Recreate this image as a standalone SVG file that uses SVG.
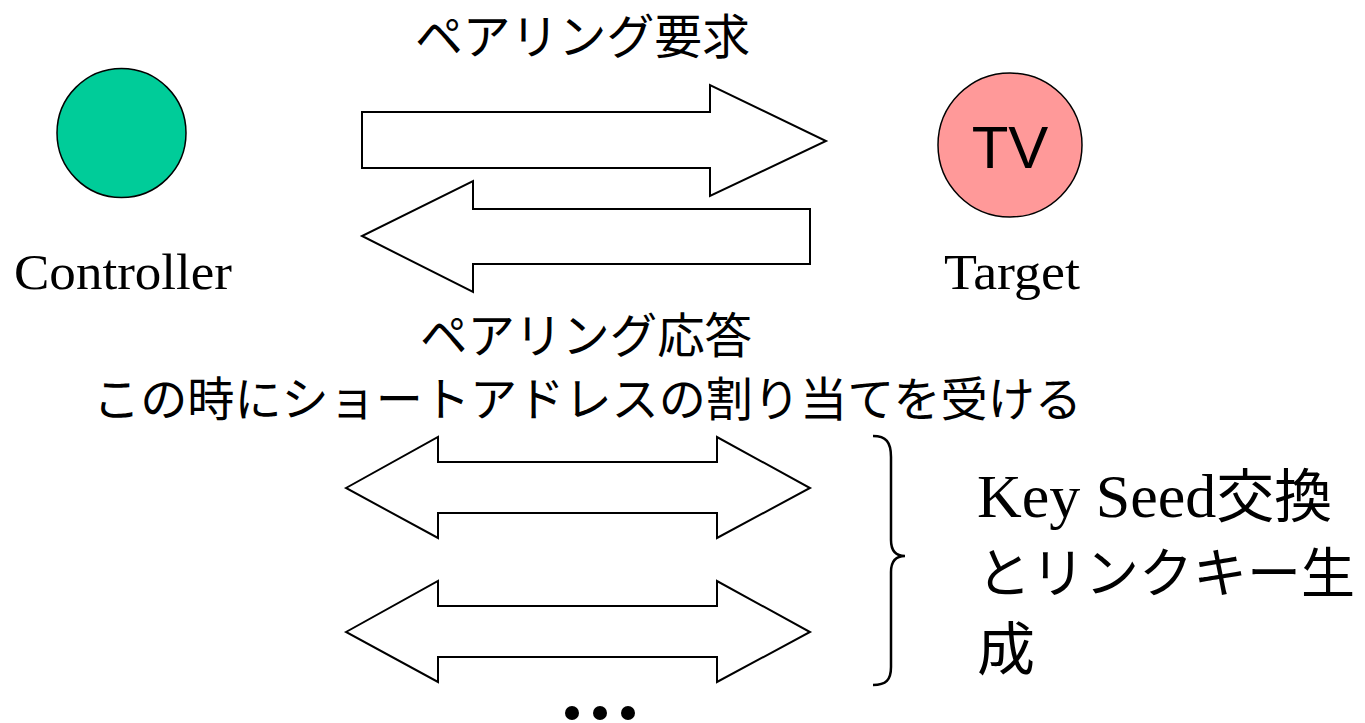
<svg xmlns="http://www.w3.org/2000/svg" width="1365" height="723" viewBox="0 0 1365 723">
<style>
.arr{fill:#fff;stroke:#000;stroke-width:2;stroke-linejoin:miter}
.jp{font-family:"Noto Sans CJK JP","Liberation Sans",sans-serif;fill:#000}
.ser{font-family:"Liberation Serif","Noto Sans CJK JP",serif;fill:#000}
.brace{fill:none;stroke:#000;stroke-width:2.5}
</style>
<rect width="1365" height="723" fill="#fff"/>
<g id="controller">
<circle cx="121.5" cy="133" r="64.5" fill="#00CC99" stroke="#000" stroke-width="1.5"/>
<text class="ser" x="14" y="289" font-size="50" textLength="218" lengthAdjust="spacingAndGlyphs">Controller</text>
</g>
<g id="target">
<circle cx="1010" cy="145" r="72" fill="#FF9999" stroke="#000" stroke-width="1.5"/>
<text x="1010" y="168" font-family="Liberation Sans, sans-serif" font-size="60" text-anchor="middle">TV</text>
<text class="ser" x="944" y="289" font-size="51" textLength="136" lengthAdjust="spacingAndGlyphs">Target</text>
</g>
<g id="connectors">
<polygon class="arr" points="362,112 710,112 710,85 826,141 710,196 710,168 362,168"/>
<polygon class="arr" points="810,209 473,209 473,181 362,236 473,292 473,264 810,264"/>
<polygon class="arr" points="346,488 438,437 438,462 717,462 717,437 810,488 717,538 717,513 438,513 438,538"/>
<polygon class="arr" points="346,632 438,581 438,606 717,606 717,581 810,632 717,682 717,657 438,657 438,682"/>
</g>
<g id="labels">
<text class="jp" x="415" y="54" font-size="48" textLength="335" lengthAdjust="spacingAndGlyphs">ペアリング要求</text>
<text class="jp" x="420" y="353" font-size="48" textLength="332" lengthAdjust="spacingAndGlyphs">ペアリング応答</text>
<text class="jp" x="93" y="416" font-size="47" textLength="989" lengthAdjust="spacingAndGlyphs">この時にショートアドレスの割り当てを受ける</text>
</g>
<g id="brace">
<path class="brace" d="M873,436 C886,436 891,442 891,457 L891,540 C891,551 896,556 905,556 C896,556 891,561 891,572 L891,667 C891,680 886,685 873,685"/>
</g>
<g id="keyseed">
<text class="ser" x="977" y="517" font-size="62"><tspan>Key Seed</tspan><tspan class="jp" font-size="58">交換</tspan></text>
<text class="jp" x="977" y="593" font-size="54">とリンクキー生</text>
<text class="jp" x="977" y="670" font-size="58">成</text>
</g>
<g id="dots" fill="#000">
<circle cx="572" cy="713" r="7"/>
<circle cx="600" cy="713" r="7"/>
<circle cx="628" cy="713" r="7"/>
</g>
</svg>
